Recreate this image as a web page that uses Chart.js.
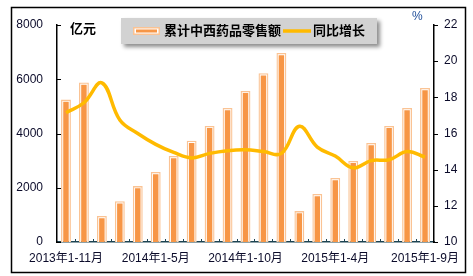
<!DOCTYPE html>
<html>
<head>
<meta charset="utf-8">
<script src="https://cdn.jsdelivr.net/npm/chart.js@4/dist/chart.umd.min.js"></script>
<style>
  body { margin: 0; background: #fff; }
  canvas { display: block; }
</style>
</head>
<body>
<canvas id="salesChart" width="473" height="276"></canvas>
<script>
var categories = ['2013年1-11月', '2013年1-12月', '2014年1-2月', '2014年1-3月', '2014年1-4月', '2014年1-5月',
    '2014年1-6月', '2014年1-7月', '2014年1-8月', '2014年1-9月', '2014年1-10月', '2014年1-11月', '2014年1-12月',
    '2015年1-2月', '2015年1-3月', '2015年1-4月', '2015年1-5月', '2015年1-6月', '2015年1-7月', '2015年1-8月', '2015年1-9月'];
var sales = [5250, 5880, 960, 1500, 2060, 2580, 3170, 3730, 4280, 4940, 5570, 6220, 6970,
    1140, 1770, 2360, 2990, 3650, 4280, 4940, 5680]; // 亿元
var growth = [17.15, 17.7, 18.8, 16.75, 16.0, 15.4, 14.95, 14.65, 14.9, 15.05, 15.1, 15.0, 14.9,
    16.4, 15.25, 14.75, 14.1, 14.5, 14.55, 15.0, 14.7]; // %
var leftTicks = [0, 2000, 4000, 6000, 8000];
var rightTicks = [10, 12, 14, 16, 18, 20, 22];

var FONT = "'Liberation Sans', Arial, 'Noto Sans CJK SC', sans-serif";
var ORANGE = '#F79646';
var PEACH = '#FAC394';
var GOLD = '#FFBA00';
var TICK_COLOR = '#0b0b2a';

// legend box, unit labels, outer frame and the small tick marks
var decorations = {
    id: 'decorations',
    afterDraw: function (chart) {
        var c = chart.ctx;
        var area = chart.chartArea;
        var y = chart.scales.y;
        c.save();

        // ticks on left axis pointing inward
        c.strokeStyle = '#000';
        c.lineWidth = 1;
        leftTicks.forEach(function (v) {
            var py = Math.round(y.getPixelForValue(v)) + 0.5;
            c.beginPath();
            c.moveTo(area.left, py);
            c.lineTo(area.left + 4, py);
            c.stroke();
        });
        // ticks on right axis pointing outward
        rightTicks.forEach(function (v) {
            var py = Math.round(chart.scales.y1.getPixelForValue(v)) + 0.5;
            c.beginPath();
            c.moveTo(area.right, py);
            c.lineTo(area.right + 4, py);
            c.stroke();
        });
        // category separators on x axis
        c.strokeStyle = '#1d4452';
        var step = (area.right - area.left) / categories.length;
        for (var i = 1; i < categories.length; i++) {
            var px = Math.round(area.left + step * i) + 0.5;
            c.beginPath();
            c.moveTo(px, area.bottom);
            c.lineTo(px, area.bottom - 3);
            c.stroke();
        }

        // legend box with shadow
        c.shadowColor = 'rgba(0,0,0,0.45)';
        c.shadowOffsetX = 3;
        c.shadowOffsetY = 3;
        c.shadowBlur = 4;
        c.fillStyle = '#d2d2d2';
        c.fillRect(121, 18, 256, 26);
        c.shadowColor = 'transparent';

        c.fillStyle = PEACH;
        c.fillRect(133, 27, 27, 8);
        c.fillStyle = '#fff';
        c.fillRect(134.5, 28.5, 24, 5);
        c.fillStyle = ORANGE;
        c.fillRect(136, 29.5, 21, 3);

        c.strokeStyle = GOLD;
        c.lineWidth = 3.5;
        c.beginPath();
        c.moveTo(283, 31);
        c.lineTo(311, 31);
        c.stroke();

        c.fillStyle = '#000';
        c.font = 'bold 13px ' + FONT;
        c.textBaseline = 'middle';
        c.textAlign = 'left';
        c.fillText('累计中西药品零售额', 164, 31);
        c.fillText('同比增长', 313, 31);

        c.fillText('亿元', 70, 29);
        c.fillStyle = '#1f4e9a';
        c.font = '12px ' + FONT;
        c.fillText('%', 412, 17);

        // outer frame
        c.strokeStyle = '#000';
        c.lineWidth = 1.5;
        c.strokeRect(11.5, 7.5, 454, 265);
        c.restore();
    }
};

var ctx = document.getElementById('salesChart').getContext('2d');
var myChart = new Chart(ctx, {
    type: 'bar',
    data: {
        labels: categories,
        datasets: [
            {
                type: 'line',
                label: '同比增长',
                data: growth,
                yAxisID: 'y1',
                borderColor: GOLD,
                borderWidth: 3.5,
                pointRadius: 0,
                tension: 0.4,
                order: 0
            },
            {
                label: '累计中西药品零售额 outline',
                data: sales,
                yAxisID: 'y',
                backgroundColor: 'rgba(0,0,0,0)',
                borderColor: PEACH,
                borderWidth: 1.3,
                borderSkipped: 'bottom',
                grouped: false,
                barPercentage: 0.55,
                categoryPercentage: 1,
                order: 1
            },
            {
                label: '累计中西药品零售额',
                data: sales,
                yAxisID: 'y',
                backgroundColor: ORANGE,
                borderColor: '#fff',
                borderWidth: 2.2,
                borderSkipped: 'bottom',
                grouped: false,
                barPercentage: 0.55,
                categoryPercentage: 1,
                order: 2
            }
        ]
    },
    options: {
        responsive: false,
        animation: false,
        layout: { padding: { left: 0, right: 0, top: 25, bottom: 0 } },
        plugins: {
            legend: { display: false },
            tooltip: { enabled: false }
        },
        scales: {
            x: {
                grid: { display: false, drawTicks: false },
                border: { display: true, color: '#1d4452', width: 1.5 },
                ticks: {
                    autoSkip: false,
                    maxRotation: 0,
                    padding: 9,
                    color: TICK_COLOR,
                    font: { family: FONT, size: 12 },
                    callback: function (val, i) { return i % 5 === 0 ? categories[i] : ''; }
                },
                afterFit: function (s) { s.height = 34; }
            },
            y: {
                position: 'left',
                min: 0,
                max: 8000,
                grid: { display: false, drawTicks: false },
                border: { display: true, color: '#000', width: 1.5 },
                ticks: {
                    stepSize: 2000,
                    padding: 14,
                    color: TICK_COLOR,
                    font: { family: FONT, size: 12 },
                    callback: function (v) { return String(v); }
                },
                afterFit: function (s) { s.width = 57; }
            },
            y1: {
                position: 'right',
                min: 10,
                max: 22,
                grid: { display: false, drawTicks: false },
                border: { display: true, color: '#000', width: 1.5 },
                ticks: {
                    stepSize: 2,
                    padding: 10,
                    color: TICK_COLOR,
                    font: { family: FONT, size: 12 },
                    callback: function (v) { return String(v); }
                },
                afterFit: function (s) { s.width = 39; }
            }
        }
    },
    plugins: [decorations]
});
</script>
</body>
</html>
